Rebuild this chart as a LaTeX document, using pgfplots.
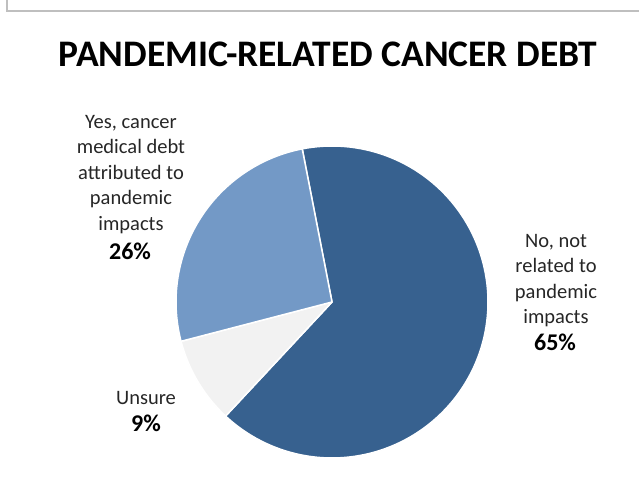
\documentclass[border=0pt]{standalone}
\usepackage{pgfplots}
\usepackage{pgfplotstable}
\pgfplotsset{compat=1.18}
\usepackage{fontspec}
\setmainfont{Carlito}

\definecolor{nodebt}{HTML}{37618F}
\definecolor{yesdebt}{HTML}{7399C6}
\definecolor{unsure}{HTML}{F2F2F2}
\definecolor{framegray}{HTML}{BFBFBF}
\definecolor{labeltext}{HTML}{262626}

% Shares of respondents (percent), clockwise from the first slice
\pgfplotstableread{
share
65
9
26
}\debtshares

\pgfplotstablegetelem{0}{share}\of\debtshares \let\sNo\pgfplotsretval
\pgfplotstablegetelem{1}{share}\of\debtshares \let\sUnsure\pgfplotsretval
\pgfplotstablegetelem{2}{share}\of\debtshares \let\sYes\pgfplotsretval

% slice boundaries in degrees (counter-clockwise math angles, going clockwise)
\pgfmathsetmacro\aA{101}
\pgfmathsetmacro\aB{\aA-3.6*\sNo}
\pgfmathsetmacro\aC{\aB-3.6*\sUnsure}
\pgfmathsetmacro\aD{\aC-3.6*\sYes}

\newcommand\cx{332}
\newcommand\cy{183}
\newcommand\rr{156}

\tikzset{
  catlabel/.style={anchor=north, inner sep=0pt, align=center, text=labeltext,
    font=\fontsize{20.5bp}{25.5bp}\selectfont},
  pctlabel/.style={anchor=base, inner sep=0pt, text=black,
    font=\fontsize{24bp}{28bp}\selectfont\bfseries},
}

\begin{document}
\begin{tikzpicture}
\begin{axis}[
  width=639bp, height=485bp, scale only axis,
  xmin=0, xmax=639, ymin=0, ymax=485,
  hide axis,
]
% outer frame
\draw[framegray, line width=2bp] (axis cs:7,700) -- (axis cs:7,474) -- (axis cs:700,474);

% pie slices
\addplot[fill=nodebt, draw=white, line width=1.5bp, line join=round,
  domain=\aB:\aA, samples=120, variable=\t]
  ({\cx+\rr*cos(t)},{\cy+\rr*sin(t)}) -- (axis cs:\cx,\cy) -- cycle;
\addplot[fill=unsure, draw=white, line width=1.5bp, line join=round,
  domain=\aC:\aB, samples=30, variable=\t]
  ({\cx+\rr*cos(t)},{\cy+\rr*sin(t)}) -- (axis cs:\cx,\cy) -- cycle;
\addplot[fill=yesdebt, draw=white, line width=1.5bp, line join=round,
  domain=\aD:\aC, samples=60, variable=\t]
  ({\cx+\rr*cos(t)},{\cy+\rr*sin(t)}) -- (axis cs:\cx,\cy) -- cycle;

% title
\node[anchor=base, inner sep=0pt, font=\fontsize{37.5bp}{45bp}\selectfont\bfseries]
  at (axis cs:328,418) {PANDEMIC-RELATED CANCER DEBT};

% data labels: category text
\node[catlabel] at (axis cs:131,370)
  {Yes, cancer\\medical debt\\attributed to\\pandemic\\impacts};
\node[catlabel] at (axis cs:556,251)
  {No, not\\related to\\pandemic\\impacts};
\node[catlabel] at (axis cs:146,94) {Unsure};

% data labels: shares
\node[pctlabel] at (axis cs:130,225) {\sYes\%};
\node[pctlabel] at (axis cs:555,134) {\sNo\%};
\node[pctlabel] at (axis cs:146,53) {\sUnsure\%};
\end{axis}
\pgfresetboundingbox
\path[use as bounding box] (0,0) rectangle (639bp,485bp);
\end{tikzpicture}
\end{document}
